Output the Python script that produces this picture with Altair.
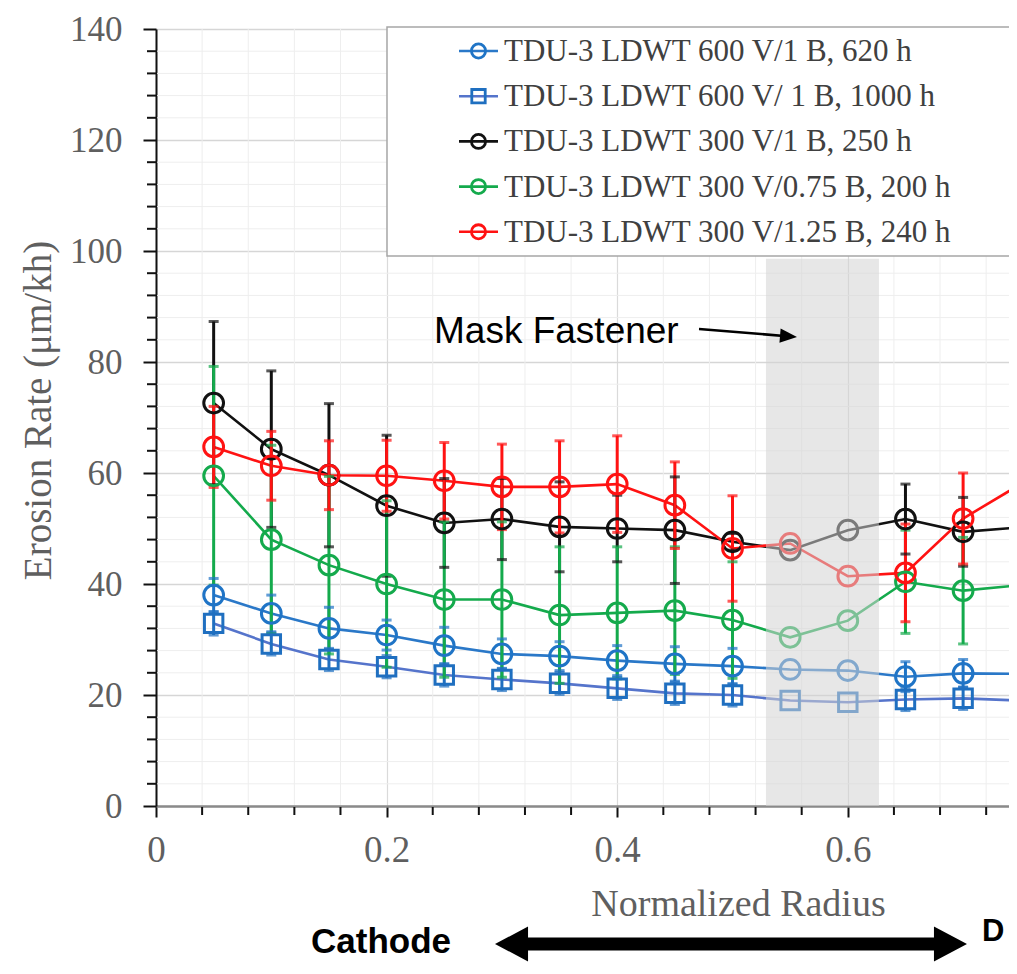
import altair as alt
import pandas as pd

# ---------------- data ----------------
radius = [0.05, 0.10, 0.15, 0.20, 0.25, 0.30, 0.35, 0.40, 0.45, 0.50, 0.55, 0.60, 0.65, 0.70, 0.75]

names = [
    "TDU-3 LDWT 600 V/1 B, 620 h",
    "TDU-3 LDWT 600 V/ 1 B, 1000 h",
    "TDU-3 LDWT 300 V/1 B, 250 h",
    "TDU-3 LDWT 300 V/0.75 B, 200 h",
    "TDU-3 LDWT 300 V/1.25 B, 240 h",
]

rate_600_620 = [38.0, 34.7, 32.0, 30.8, 28.9, 27.4, 27.0, 26.2, 25.6, 25.2, 24.6, 24.4, 23.3, 23.9, 23.8]
rate_600_1000 = [32.9, 29.2, 26.4, 25.1, 23.6, 22.8, 22.1, 21.2, 20.3, 20.0, 19.0, 18.7, 19.2, 19.4, 19.0]
rate_300_1 = [72.6, 64.3, 59.6, 54.1, 51.0, 51.7, 50.3, 50.0, 49.7, 47.6, 46.1, 49.7, 51.7, 49.4, 50.2]
rate_300_075 = [59.5, 48.0, 43.4, 40.0, 37.2, 37.2, 34.4, 34.8, 35.2, 33.5, 30.4, 33.4, 40.4, 38.8, 39.8]
rate_300_125 = [64.7, 61.3, 59.6, 59.5, 58.6, 57.5, 57.5, 58.0, 54.2, 46.4, 47.3, 41.4, 42.0, 51.8, 58.0]

err_600_620 = [3.0, 3.3, 3.8, 2.7, 3.3, 2.7, 2.6, 2.7, 3.1, 3.2, None, None, 2.7, 2.5, 2.5]
err_600_1000 = [2.1, 2.0, 2.0, 2.0, 2.0, 2.0, 2.0, 2.0, 2.0, 2.0, None, None, 2.0, 2.0, 2.0]
err_300_1 = [14.7, 14.1, 12.9, 12.7, 8.0, 7.3, 8.1, 6.0, 9.6, 1.5, None, None, 6.3, 6.2, 5.0]
err_300_075 = [19.7, 17.0, 16.0, 15.0, 14.0, 14.0, 12.3, 11.9, 11.5, 10.5, None, None, 9.3, 9.6, 9.8]
err_300_125 = [7.3, 6.2, 6.2, 6.4, 6.9, 7.7, 8.3, 8.7, 7.8, 9.5, None, None, 8.8, 8.2, 8.1]

mask_region = [0.529, 0.627]
mask_top = 98.6

y_major = [0, 20, 40, 60, 80, 100, 120, 140]
y_minor = [4, 8, 12, 16, 24, 28, 32, 36, 44, 48, 52, 56, 64, 68, 72, 76, 84, 88, 92, 96,
           104, 108, 112, 116, 124, 128, 132, 136]
x_major = [0, 0.2, 0.4, 0.6]
x_minor = [0.04, 0.08, 0.12, 0.16, 0.24, 0.28, 0.32, 0.36, 0.44, 0.48, 0.52, 0.56, 0.64, 0.68, 0.72]

# ---------------- styles ----------------
marker_colors = ["#1F74C6", "#1F6FC0", "#111111", "#14AA4C", "#FF1212"]
line_colors = ["#2A78C8", "#5574CB", "#111111", "#14AA4C", "#FF1212"]
shapes = ["circle", "square", "circle", "circle", "circle"]
sizes = [390, 340, 390, 390, 390]

all_rates = [rate_600_620, rate_600_1000, rate_300_1, rate_300_075, rate_300_125]
all_errs = [err_600_620, err_600_1000, err_300_1, err_300_075, err_300_125]

rows = []
for i, (nm, rs, es) in enumerate(zip(names, all_rates, all_errs)):
    for r, v, e in zip(radius, rs, es):
        rows.append(dict(series=nm, order=i, radius=r, rate=v, err=e,
                         lo=(v - e) if e is not None else None,
                         hi=(v + e) if e is not None else None,
                         mcolor=marker_colors[i], lcolor=line_colors[i],
                         shape=shapes[i], msize=sizes[i]))
df = pd.DataFrame(rows)
df_err = df.dropna(subset=["err"])
caps = pd.concat([
    df_err[["series", "radius", "mcolor", "lo"]].rename(columns={"lo": "rate"}),
    df_err[["series", "radius", "mcolor", "hi"]].rename(columns={"hi": "rate"}),
]).sort_index(kind="stable")

W, H = 853, 777
xscale = alt.Scale(domain=[0, 0.7398], nice=False, zero=False)
yscale = alt.Scale(domain=[0, 140], nice=False)

SERIF = "Liberation Serif"
SANS = "Liberation Sans"
LABEL_GRAY = "#5f5f5f"

xaxis = alt.Axis(values=x_major, labelExpr="datum.value == 0 ? '0' : format(datum.value, '.1f')",
                 tickSize=11, tickWidth=2, tickColor="#111111",
                 domainColor="#8a8a8a", domainWidth=2.5,
                 grid=True, gridColor="#dadada", gridWidth=1.2,
                 labelFont=SERIF, labelFontSize=37, labelColor=LABEL_GRAY, labelPadding=15,
                 labelFlush=False, labelOverlap=False,
                 title="Normalized Radius", titleFont=SERIF, titleFontSize=38,
                 titleFontWeight="normal", titleColor=LABEL_GRAY,
                 titleX=582, titleY=109, titleAlign="center", titleBaseline="alphabetic")
yaxis = alt.Axis(values=y_major, tickSize=13, tickWidth=2, tickColor="#111111",
                 domainColor="#111111", domainWidth=2,
                 grid=True, gridColor="#d6d6d6", gridWidth=1.5,
                 labelFont=SERIF, labelFontSize=35, labelColor=LABEL_GRAY, labelPadding=21,
                 labelFlush=False, labelOverlap=False,
                 title="Erosion Rate (μm/kh)", titleFont=SERIF, titleFontSize=39,
                 titleFontWeight="normal", titleColor=LABEL_GRAY, titleAngle=270,
                 titleX=-118, titleY=381, titleAlign="center", titleBaseline="middle")

X = alt.X("radius:Q", scale=xscale, axis=xaxis)
Y = alt.Y("rate:Q", scale=yscale, axis=yaxis)

# minor grid + minor ticks
ymin_df = pd.DataFrame({"rate": y_minor})
xmin_df = pd.DataFrame({"radius": x_minor})
grid_h = alt.Chart(ymin_df).mark_rule(color="#eeeeee", strokeWidth=1).encode(
    y=Y, x=alt.value(1), x2=alt.value(W))
grid_v = alt.Chart(xmin_df).mark_rule(color="#eeeeee", strokeWidth=1).encode(
    x=X, y=alt.value(0), y2=alt.value(H - 1))
tick_y = alt.Chart(ymin_df).mark_rule(color="#111111", strokeWidth=2).encode(
    y=Y, x=alt.value(-9), x2=alt.value(0))
tick_x = alt.Chart(xmin_df).mark_rule(color="#111111", strokeWidth=2).encode(
    x=X, y=alt.value(H + 1), y2=alt.value(H + 9))

lines = alt.Chart(df).mark_line(strokeWidth=2.6, clip=True).encode(
    x=X, y=Y, detail="series:N", order="radius:Q",
    color=alt.Color("lcolor:N", scale=None))

bars = alt.Chart(df_err).mark_rule(strokeWidth=3, clip=True).encode(
    x=X, y=alt.Y("lo:Q", scale=yscale, axis=yaxis), y2="hi:Q",
    color=alt.Color("mcolor:N", scale=None))

capm = alt.Chart(caps).mark_tick(orient="horizontal", size=10, thickness=3, clip=True).encode(
    x=X, y=Y, color=alt.Color("mcolor:N", scale=None))

points = alt.Chart(df).mark_point(filled=False, strokeWidth=3, clip=True, opacity=1).encode(
    x=X, y=Y,
    color=alt.Color("mcolor:N", scale=None),
    shape=alt.Shape("shape:N", scale=None),
    size=alt.Size("msize:Q", scale=None))

mask_df = pd.DataFrame({"radius": [mask_region[0]], "x1": [mask_region[1]],
                        "rate": [0], "top": [mask_top]})
mask = alt.Chart(mask_df).mark_rect(color="#d4d4d4", opacity=0.55).encode(
    x=X, x2="x1:Q", y=Y, y2="top:Q")

one = pd.DataFrame({"a": [0]})

# annotation: Mask Fastener
mask_text = alt.Chart(one).mark_text(align="left", baseline="alphabetic", font=SANS,
                                     fontSize=37, color="#000000").encode(
    x=alt.value(278), y=alt.value(314), text=alt.value("Mask Fastener"))
mask_arrow = alt.Chart(one).mark_rule(color="#000000", strokeWidth=2.5).encode(
    x=alt.value(543), y=alt.value(300), x2=alt.value(634), y2=alt.value(307.4))
mask_head = alt.Chart(one).mark_point(shape="M1,0L-1,-0.85L-1,0.85Z", size=289, filled=True,
                                      color="#000000", opacity=1, angle=4.7).encode(
    x=alt.value(632.5), y=alt.value(307.3))

# bottom: Cathode <-> D
darrow = ("M-1,0L-0.86,-0.074L-0.86,-0.0275L0.86,-0.0275L0.86,-0.074L1,0"
          "L0.86,0.074L0.86,0.0275L-0.86,0.0275L-0.86,0.074Z")
big_arrow = alt.Chart(one).mark_point(shape=darrow, size=472 ** 2, filled=True,
                                      color="#000000", opacity=1).encode(
    x=alt.value(575), y=alt.value(915))
cathode = alt.Chart(one).mark_text(align="left", baseline="alphabetic", font=SANS,
                                   fontSize=35, fontWeight="bold", color="#000000").encode(
    x=alt.value(155), y=alt.value(924), text=alt.value("Cathode"))
dtext = alt.Chart(one).mark_text(align="left", baseline="alphabetic", font=SANS,
                                 fontSize=31, fontWeight="bold", color="#000000").encode(
    x=alt.value(826), y=alt.value(912), text=alt.value("D"))

# legend (manual)
legend_box = alt.Chart(one).mark_rect(fill="#ffffff", stroke="#a6a6a6", strokeWidth=1.5).encode(
    x=alt.value(231), x2=alt.value(W + 20), y=alt.value(-2), y2=alt.value(227))
legend_layers = [legend_box]
for i, nm in enumerate(names):
    yy = 22 + i * 45.2
    legend_layers.append(alt.Chart(one).mark_rule(color=line_colors[i], strokeWidth=2.6).encode(
        x=alt.value(303), x2=alt.value(342), y=alt.value(yy)))
    legend_layers.append(alt.Chart(one).mark_point(shape=shapes[i], filled=False, color=marker_colors[i],
                                                   strokeWidth=2.8, opacity=1,
                                                   size=200 if shapes[i] == "circle" else 180).encode(
        x=alt.value(322.5), y=alt.value(yy)))
    legend_layers.append(alt.Chart(one).mark_text(align="left", baseline="middle", font=SERIF,
                                                  fontSize=31, color="#404040").encode(
        x=alt.value(348), y=alt.value(yy + 1), text=alt.value(nm)))

chart = alt.layer(
    grid_h, grid_v, tick_y, tick_x,
    lines, bars, capm, points, mask,
    mask_text, mask_arrow, mask_head,
    big_arrow, cathode, dtext,
    *legend_layers,
).properties(
    width=W, height=H,
    autosize=alt.AutoSizeParams(type="none"),
    padding={"left": 148, "top": 21, "right": 0, "bottom": 160},
    background="#ffffff",
).configure_view(stroke=None)

chart.save("out.html", embed_options={"renderer": "svg", "actions": False})
